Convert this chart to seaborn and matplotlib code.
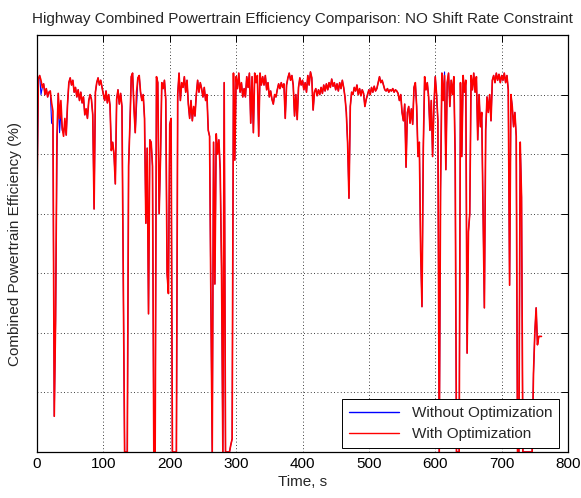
import matplotlib
matplotlib.use("Agg")
import matplotlib.pyplot as plt
import seaborn as sns

# ---------------- data ----------------
time_s = list(range(0, 762, 2))

with_opt = [
    21.5, 31.3, 31.6, 31.2, 30.6, 30.9, 30.0, 30.5, 29.8, 30.2,   # 0-18
    30.3, 29.3, 28.6, 3.0, 11.0, 26.5, 30.1, 28.0, 29.5, 27.2,    # 20-38
    26.5, 28.0, 26.6, 29.2, 31.0, 31.4, 30.8, 31.2, 30.2, 30.6,   # 40-58
    29.8, 30.4, 29.5, 30.2, 29.3, 29.8, 28.3, 28.8, 28.0, 29.5,   # 60-78
    30.0, 29.6, 28.3, 20.4, 30.2, 31.0, 31.4, 30.8, 31.2, 30.6,   # 80-98
    30.0, 29.5, 30.3, 29.3, 30.0, 29.1, 25.3, 26.0, 25.0, 22.5,   # 100-118
    29.6, 30.4, 29.2, 30.1, 29.0, 15.0, 0.0, 0.0, 0.0, 24.0,      # 120-138
    27.5, 31.5, 31.8, 29.0, 26.8, 30.2, 31.4, 31.6, 30.2, 29.5,   # 140-158
    30.0, 28.0, 19.2, 25.5, 11.6, 26.2, 26.0, 24.0, 0.0, 0.0,     # 160-178
    31.5, 31.0, 20.0, 24.5, 31.0, 30.5, 31.2, 29.6, 15.0, 13.3,   # 180-198
    27.5, 28.0, 0.0, 0.0, 0.0, 0.0, 30.0, 31.8, 29.5, 31.0,       # 200-218
    30.6, 31.5, 30.2, 31.2, 29.2, 28.0, 29.5, 27.8, 29.0, 28.2,   # 220-238
    30.0, 31.2, 30.2, 31.0, 30.5, 29.8, 30.6, 29.5, 30.0, 27.0,   # 240-258
    26.5, 12.5, 0.0, 26.0, 14.1, 26.7, 25.0, 26.2, 23.7, 15.5,    # 260-278
    0.0, 31.0, 0.0, 0.0, 0.0, 0.0, 0.6, 1.1, 31.8, 24.5,          # 280-298
    31.5, 30.5, 31.8, 30.2, 31.0, 29.8, 30.5, 29.8, 31.5, 30.6,   # 300-318
    31.8, 27.6, 31.5, 26.8, 31.8, 31.0, 31.6, 26.5, 31.8, 30.8,   # 320-338
    31.5, 30.8, 31.6, 30.4, 31.0, 29.8, 30.3, 29.6, 29.2, 30.0,   # 340-358
    29.8, 30.4, 30.9, 30.5, 31.0, 30.6, 30.9, 28.0, 30.8, 31.4,   # 360-378
    31.8, 31.2, 31.6, 30.8, 28.2, 30.0, 27.9, 30.6, 31.4, 30.8,   # 380-398
    31.2, 30.4, 31.0, 30.2, 31.6, 30.8, 31.9, 31.4, 28.7, 30.2,   # 400-418
    30.5, 29.9, 30.4, 30.0, 30.6, 30.1, 30.8, 30.3, 30.9, 30.4,   # 420-438
    31.0, 30.6, 31.3, 30.7, 31.0, 30.4, 30.9, 30.3, 31.0, 30.5,   # 440-458
    31.2, 30.6, 29.8, 28.5, 25.9, 21.3, 29.0, 30.2, 30.0, 30.6,   # 460-478
    30.3, 30.8, 30.0, 30.5, 29.9, 30.4, 30.1, 29.0, 29.6, 30.0,   # 480-498
    30.4, 30.0, 30.6, 30.2, 30.7, 30.3, 30.5, 31.0, 31.5, 31.0,   # 500-518
    31.2, 30.8, 30.4, 30.3, 30.5, 30.2, 30.4, 30.3, 30.5, 30.2,   # 520-538
    30.4, 30.3, 30.1, 29.5, 30.0, 28.5, 27.8, 29.2, 23.9, 28.5,   # 540-558
    29.0, 27.6, 28.8, 27.5, 30.6, 31.0, 29.0, 24.8, 26.0, 16.9,   # 560-578
    12.2, 25.5, 31.5, 30.4, 31.0, 29.8, 27.0, 29.5, 24.8, 29.0,   # 580-598
    31.5, 30.0, 27.8, 0.0, 22.0, 31.8, 29.5, 31.6, 23.7, 31.0,    # 600-618
    31.8, 29.0, 31.2, 30.0, 31.5, 24.8, 0.0, 0.0, 0.0, 31.0,      # 620-638
    24.8, 31.6, 30.2, 31.2, 8.3, 18.5, 20.0, 31.6, 30.4, 31.8,    # 640-658
    30.2, 31.5, 26.2, 30.0, 27.3, 28.5, 20.0, 12.1, 27.0, 29.8,   # 660-678
    28.5, 30.0, 27.8, 31.2, 31.6, 31.0, 31.8, 31.2, 31.7, 31.0,   # 680-698
    31.6, 31.2, 31.8, 31.0, 31.6, 30.4, 14.0, 30.0, 29.0, 27.3,   # 700-718
    28.5, 26.5, 0.0, 0.0, 26.0, 21.4, 0.0, 0.0, 0.0, 0.0,         # 720-738
    0.0, 0.0, 0.0, 0.0, 6.6, 10.0, 12.1, 9.0, 9.7, 9.7,           # 740-758
    9.7,                                                          # 760
]

# where the non-optimized run visibly differs from the optimized one
without_diff_t = [6, 22, 24, 30, 34, 36, 38, 40, 42, 150, 614]
without_diff_v = [30.0, 27.6, 27.5, 24.8, 26.8, 28.5, 27.0, 26.8, 27.5, 29.0, 31.9]

without_opt = list(with_opt)
for t, v in zip(without_diff_t, without_diff_v):
    without_opt[time_s.index(t)] = v

x_ticks = [0, 100, 200, 300, 400, 500, 600, 700, 800]
y_ticks = [0, 5, 10, 15, 20, 25, 30, 35]

title = "Highway Combined Powertrain Efficiency Comparison: NO Shift Rate Constraint"
xlabel = "Time, s"
ylabel = "Combined Powertrain Efficiency (%)"
labels = ["Without Optimization", "With Optimization"]

# ---------------- plot ----------------
sns.set_style("white")
plt.rcParams["font.family"] = ["Liberation Sans", "DejaVu Sans"]

fig = plt.figure(figsize=(5.81, 4.98), dpi=100)
ax = fig.add_axes([37 / 581, 46 / 498, 531 / 581, 417 / 498])

sns.lineplot(x=time_s, y=without_opt, color="blue", linewidth=0.8,
             estimator=None, ax=ax, label=labels[0])
sns.lineplot(x=time_s, y=with_opt, color="red", linewidth=1.2,
             estimator=None, ax=ax, label=labels[1])

ax.set_xlim(0, 800)
ax.set_ylim(0, 35)
ax.set_xticks(x_ticks)
ax.set_yticks(y_ticks)
ax.set_yticklabels([])
ax.tick_params(direction="in", top=True, right=True, length=5, width=0.7,
               labelsize=11, colors="black")
ax.grid(True, color="black", linestyle=(0, (1, 3)), linewidth=0.6)
for s in ax.spines.values():
    s.set_color("black")
    s.set_linewidth(0.9)

ax.set_title(title, fontsize=11, pad=9)
ax.set_xlabel(xlabel, fontsize=11, labelpad=3)
ax.set_ylabel(ylabel, fontsize=11, labelpad=7)

leg = ax.legend(loc="lower right", bbox_to_anchor=(0.983, 0.0096),
                borderaxespad=0, frameon=True, fancybox=False,
                edgecolor="black", framealpha=1, handlelength=3.3,
                fontsize=11, borderpad=0.45, labelspacing=0.45)
leg.get_frame().set_linewidth(0.7)
for line in leg.get_lines():
    line.set_linewidth(1.0)

fig.savefig("out.png", dpi=100)
